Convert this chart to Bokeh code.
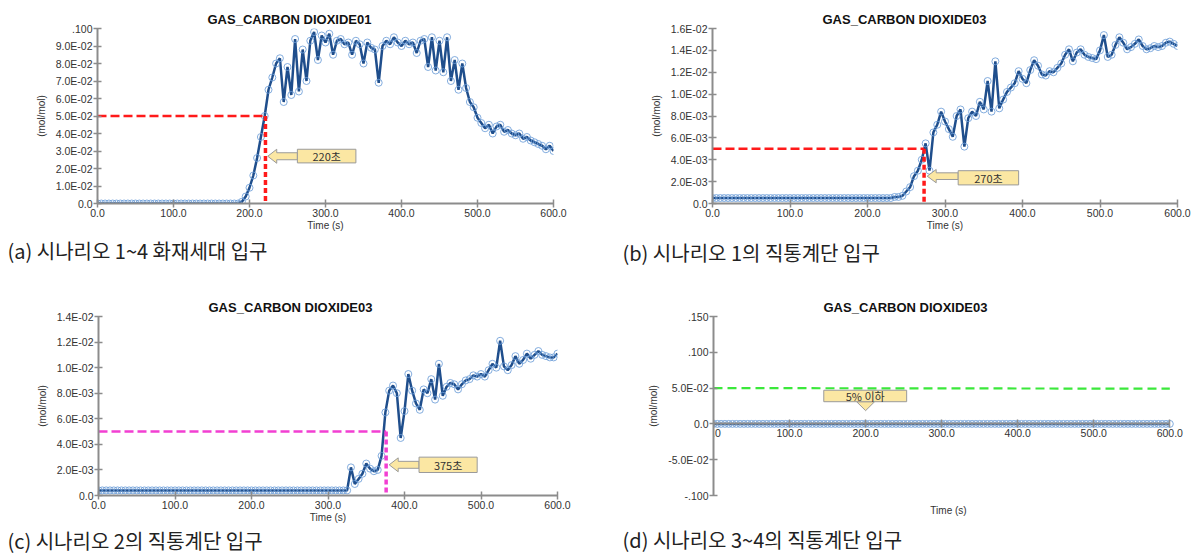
from bokeh.plotting import figure
from bokeh.models import Range1d, FixedTicker, Title, LinearAxis
from bokeh.layouts import column, row
from bokeh.embed import file_html
from bokeh.resources import INLINE
from bokeh.core.properties import value

# ---------------- data ----------------
time_s = list(range(0, 601, 5))

co2_a = [0.0] * 38 + [
    0.001, 0.004, 0.009, 0.016, 0.026, 0.038, 0.050, 0.065, 0.072, 0.080,
    0.083, 0.058, 0.078, 0.062, 0.094, 0.064, 0.088, 0.070, 0.093, 0.098,
    0.082, 0.096, 0.092, 0.097, 0.085, 0.093, 0.094, 0.091, 0.092, 0.085,
    0.093, 0.091, 0.080, 0.092, 0.089, 0.088, 0.069, 0.090, 0.093, 0.091,
    0.095, 0.092, 0.090, 0.093, 0.091, 0.092, 0.086, 0.093, 0.094, 0.078,
    0.095, 0.076, 0.093, 0.075, 0.095, 0.070, 0.082, 0.065, 0.080, 0.066,
    0.058, 0.055, 0.049, 0.046, 0.043, 0.045, 0.040, 0.044, 0.045, 0.041,
    0.042, 0.040, 0.039, 0.040, 0.037, 0.038, 0.036, 0.035, 0.034, 0.033,
    0.031, 0.033, 0.030]

co2_b = [0.0005] * 47 + [
    0.0006, 0.0006, 0.0007, 0.0011, 0.0015, 0.0025, 0.0030, 0.0040, 0.0055, 0.0030,
    0.0065, 0.0072, 0.0084, 0.0075, 0.0068, 0.0061, 0.0080, 0.0086, 0.0052, 0.0078,
    0.0084, 0.0080, 0.0093, 0.0086, 0.0112, 0.0084, 0.0130, 0.0087, 0.0095, 0.0102,
    0.0106, 0.0110, 0.0121, 0.0114, 0.0110, 0.0122, 0.0131, 0.0126, 0.0118, 0.0117,
    0.0121, 0.0120, 0.0124, 0.0128, 0.0136, 0.0141, 0.0130, 0.0138, 0.0141, 0.0136,
    0.0134, 0.0133, 0.0132, 0.0140, 0.0154, 0.0134, 0.0136, 0.0145, 0.0152, 0.0147,
    0.0141, 0.0143, 0.0146, 0.0150, 0.0144, 0.0141, 0.0142, 0.0144, 0.0143, 0.0144,
    0.0147, 0.0148, 0.0146, 0.0144]

co2_c = [0.0004] * 66 + [
    0.0022, 0.0009, 0.0013, 0.0017, 0.0025, 0.0021, 0.0019, 0.0020, 0.0031, 0.0065,
    0.0082, 0.0086, 0.0080, 0.0045, 0.0066, 0.0095, 0.0082, 0.0072, 0.0067, 0.0083,
    0.0080, 0.0091, 0.0075, 0.0103, 0.0078, 0.0085, 0.0088, 0.0087, 0.0083, 0.0087,
    0.0090, 0.0091, 0.0094, 0.0093, 0.0095, 0.0093, 0.0098, 0.0103, 0.0100, 0.0121,
    0.0101, 0.0098, 0.0102, 0.0109, 0.0103, 0.0106, 0.0111, 0.0107, 0.0110, 0.0113,
    0.0110, 0.0109, 0.0108, 0.0108, 0.0111]

co2_d = [0.0] * 121

x_ticks = [0, 100, 200, 300, 400, 500, 600]
x_tick_labels = ["0.0", "100.0", "200.0", "300.0", "400.0", "500.0", "600.0"]

a_y_ticks = [0.0, 0.01, 0.02, 0.03, 0.04, 0.05, 0.06, 0.07, 0.08, 0.09, 0.1]
a_y_labels = ["0.0", "1.0E-02", "2.0E-02", "3.0E-02", "4.0E-02", "5.0E-02",
              "6.0E-02", "7.0E-02", "8.0E-02", "9.0E-02", ".100"]
b_y_ticks = [0.0, 0.002, 0.004, 0.006, 0.008, 0.01, 0.012, 0.014, 0.016]
b_y_labels = ["0.0", "2.0E-03", "4.0E-03", "6.0E-03", "8.0E-03", "1.0E-02",
              "1.2E-02", "1.4E-02", "1.6E-02"]
c_y_ticks = [0.0, 0.002, 0.004, 0.006, 0.008, 0.01, 0.012, 0.014]
c_y_labels = ["0.0", "2.0E-03", "4.0E-03", "6.0E-03", "8.0E-03", "1.0E-02",
              "1.2E-02", "1.4E-02"]
d_y_ticks = [-0.1, -0.05, 0.0, 0.05, 0.1, 0.15]
d_y_labels = ["-.100", "-5.0E-02", "0.0", "5.0E-02", ".100", ".150"]

titles = ["GAS_CARBON DIOXIDE01", "GAS_CARBON DIOXIDE03",
          "GAS_CARBON DIOXIDE03", "GAS_CARBON DIOXIDE03"]
captions = ["(a) 시나리오 1~4   화재세대 입구",
            "(b) 시나리오 1의 직통계단 입구",
            "(c) 시나리오 2의 직통계단 입구",
            "(d) 시나리오 3~4의 직통계단 입구"]
callout_texts = ["220초", "270초", "375초", "5% 이하"]
threshold_times = [221, 273, 376]
thresholds = [0.05, 0.005, 0.005, 0.05]

# ---------------- style ----------------
AX = "#8C8C8C"
TXT = "#333333"
LINE = "#1F4E8C"
MARK = "#6F9FD8"
BOXF = "#FBE7A3"
BOXL = "#9A9A9A"
FONT = "Liberation Sans"
KR = "Noto Sans CJK KR"


def make_panel(title, xs, ys, ylo, yhi, yt, yl, w, h, bl, br, bt, bb,
               caption, cap_off, cap_standoff, fixed_x=False, xmax=600):
    p = figure(width=w, height=h, output_backend="svg", toolbar_location=None,
               x_range=Range1d(0, xmax), y_range=Range1d(ylo, yhi),
               min_border_left=bl, min_border_right=br,
               min_border_top=bt, min_border_bottom=bb,
               x_axis_location=None if fixed_x else "below")
    p.outline_line_color = None
    p.grid.visible = False
    p.background_fill_color = "white"
    p.border_fill_color = "white"
    p.title.text = title
    p.title.align = "left"
    p.title.offset = 110
    p.title.text_font = FONT
    p.title.text_font_size = "13px"
    p.title.text_font_style = "bold"
    p.title.text_color = "#111111"
    p.title.standoff = 3

    if fixed_x:
        xa = LinearAxis(fixed_location=0, bounds=(0, 600))
        p.add_layout(xa, "below")
    else:
        xa = p.xaxis[0]
        xa.axis_label = "Time (s)"
    axes = [xa, p.yaxis[0]]
    for ax in axes:
        ax.axis_line_color = AX
        ax.axis_line_width = 2
        ax.major_tick_line_color = AX
        ax.major_tick_line_width = 1.5
        ax.major_tick_in = 4
        ax.major_tick_out = 4
        ax.minor_tick_line_color = None
        ax.major_label_text_font = FONT
        ax.major_label_text_font_size = "10.5px"
        ax.major_label_text_color = TXT
        ax.major_label_standoff = 1
        ax.axis_label_text_font = FONT
        ax.axis_label_text_font_size = "10px"
        ax.axis_label_text_font_style = "normal"
        ax.axis_label_text_color = TXT
        ax.axis_label_standoff = 0
    xa.ticker = FixedTicker(ticks=x_ticks)
    xa.major_label_overrides = dict(zip(x_ticks, x_tick_labels))
    ya = p.yaxis[0]
    ya.ticker = FixedTicker(ticks=yt)
    ya.major_label_overrides = dict(zip(yt, yl))
    ya.axis_label = "(mol/mol)"
    ya.axis_label_standoff = 6

    p.line(xs, ys, line_color=LINE, line_width=2.5)
    p.scatter(xs, ys, marker="circle", size=7, fill_color=None,
              line_color=MARK, line_width=1, line_alpha=0.85)

    if fixed_x:
        tl = Title(text="Time (s)", align="center", text_font=FONT,
                   text_font_size="10px", text_font_style="normal",
                   text_color=TXT, standoff=14)
        p.add_layout(tl, "below")
    cap = Title(text=caption, align="left", offset=cap_off, text_font=KR,
                text_font_size="20px", text_font_style="normal",
                text_color="#222222", standoff=cap_standoff)
    p.add_layout(cap, "below")
    fw = w - bl - br
    fh = h - bt - bb
    p._px = (float(xmax) / fw, (yhi - ylo) / fh)
    return p


def left_callout(p, text, tx, ty, bx0, bx1, by0, by1):
    sx, sy = p._px
    hs, hh, hl = 3.5 * sy, 7 * sy, 9 * sx
    ax = [bx0, tx + hl, tx + hl, tx, tx + hl, tx + hl, bx0]
    ay = [ty + hs, ty + hs, ty + hh, ty, ty - hh, ty - hs, ty - hs]
    p.patch(ax, ay, fill_color=BOXF, line_color=BOXL, line_width=1)
    p.quad(left=bx0, right=bx1, bottom=by0, top=by1, fill_color=BOXF,
           line_color=BOXL, line_width=1)
    p.text([(bx0 + bx1) / 2], [(by0 + by1) / 2], text=[text],
           text_align="center", text_baseline="middle",
           text_font=value(KR), text_font_size="11px", text_color=TXT)


W1, W2 = 600, 597
pa = make_panel(titles[0], time_s, co2_a, 0, 0.1, a_y_ticks, a_y_labels,
                W1, 280, 97, 47, 28, 77, captions[0], -90, 0)
pb = make_panel(titles[1], time_s, co2_b, 0, 0.016, b_y_ticks, b_y_labels,
                W2, 280, 112, 20, 23, 73, captions[1], -90, 4)
pc = make_panel(titles[2], time_s, co2_c, 0, 0.014, c_y_ticks, c_y_labels,
                W1, 278, 98, 43, 35, 63, captions[2], -91, -3)
pd = make_panel(titles[3], time_s, co2_d, -0.1, 0.15, d_y_ticks, d_y_labels,
                W2, 278, 113, 14, 36, 62, captions[3], -91, 0,
                fixed_x=True, xmax=618)

RED = "#FF1A1A"
MAG = "#F23FD2"
GRN = "#3BE83B"
for p, t, thr, col in [(pa, threshold_times[0], thresholds[0], RED),
                       (pb, threshold_times[1], thresholds[1], RED),
                       (pc, threshold_times[2], thresholds[2], MAG)]:
    p.segment(x0=[0], y0=[thr], x1=[t], y1=[thr], line_color=col,
              line_width=2.5, line_dash="9 4")
    p.segment(x0=[t], y0=[thr], x1=[t], y1=[0], line_color=col,
              line_width=3.5, line_dash="5 3")

left_callout(pa, callout_texts[0], 224, 0.0270, 263, 340, 0.0232, 0.0310)
left_callout(pb, callout_texts[1], 277, 0.0025, 317, 395, 0.0017, 0.0030)
left_callout(pc, callout_texts[2], 380, 0.0024, 419, 495, 0.0018, 0.0030)

# panel d: 5% line and downward callout
pd.segment(x0=[0], y0=[thresholds[3]], x1=[600], y1=[0.0492], line_color=GRN,
           line_width=2.2, line_dash="9 5")
sx, sy = pd._px
bx0, bx1, by0, by1 = 145, 254, 0.031, 0.047
cx = 200
pd.patch([cx - 9 * sx, cx + 9 * sx, cx],
         [by0, by0, by0 - 9 * sy],
         fill_color=BOXF, line_color=BOXL, line_width=1)
pd.quad(left=bx0, right=bx1, bottom=by0, top=by1, fill_color=BOXF,
        line_color=BOXL, line_width=1)
pd.text([(bx0 + bx1) / 2], [(by0 + by1) / 2], text=[callout_texts[3]],
        text_align="center", text_baseline="middle",
        text_font=value(KR), text_font_size="11px", text_color=TXT)

layout = column(row(pa, pb), row(pc, pd))
open("out.html", "w").write(file_html(layout, INLINE))
